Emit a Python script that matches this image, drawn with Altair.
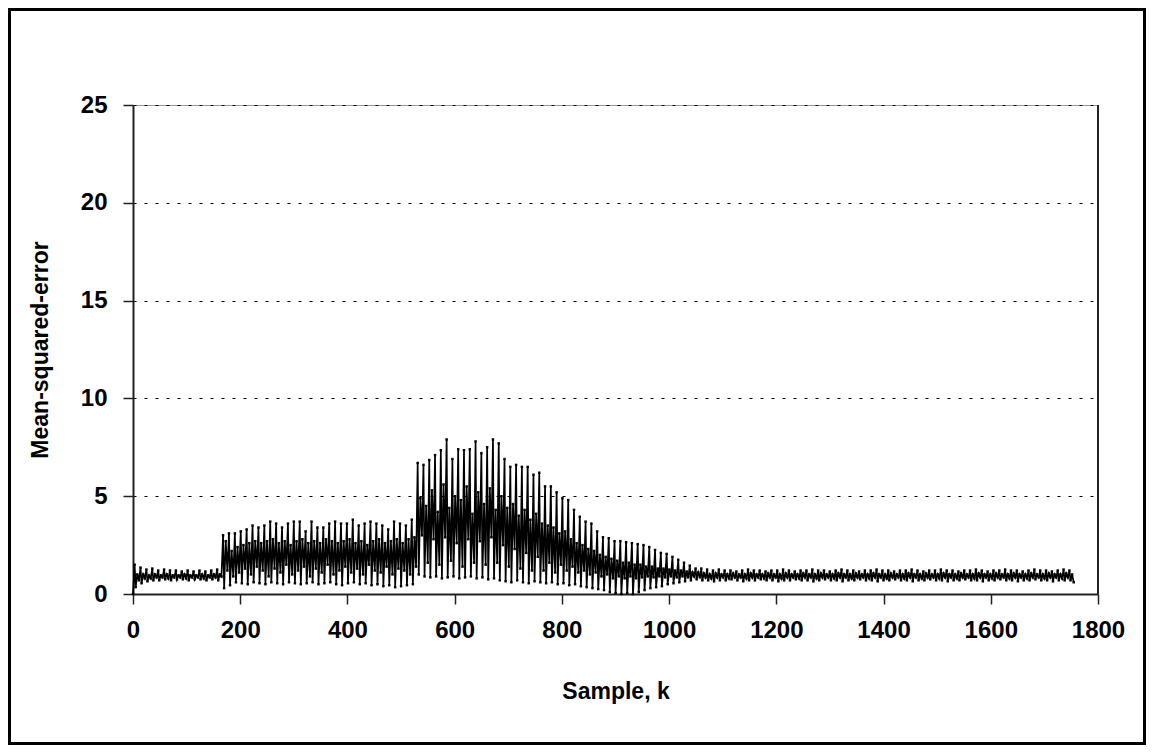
import altair as alt
import pandas as pd

# ---- values (per oscillation cycle) ----
# Segment A: k ~ 0..168
peakA = [1.5, 1.35, 1.25, 1.3, 1.2, 1.25, 1.2, 1.2, 1.15, 1.2, 1.15, 1.2, 1.15, 1.2, 1.25]
troughA = [0.35, 0.55, 0.65, 0.7, 0.7, 0.75, 0.7, 0.75, 0.75, 0.7, 0.75, 0.75, 0.7, 0.75, 0.7]
hiA = [1.0, 1.0, 0.95, 1.0, 0.95, 1.0, 0.95, 0.95, 1.0, 0.95, 0.95, 1.0, 0.95, 1.0, 1.0]
loA = [0.7, 0.8, 0.8, 0.85, 0.85, 0.8, 0.85, 0.85, 0.8, 0.85, 0.85, 0.8, 0.85, 0.85, 0.9]

# Segment B: k ~ 168..531
peakB = [3.0, 3.1, 3.1, 3.2, 3.3, 3.5, 3.4, 3.5, 3.7, 3.6, 3.4, 3.6, 3.7, 3.7, 3.2, 3.7, 3.4,
         3.4, 3.6, 3.7, 3.6, 3.6, 3.8, 3.5, 3.6, 3.7, 3.6, 3.5, 3.3, 3.7, 3.6, 3.5, 3.8]
troughB = [0.3, 0.45, 0.6, 0.55, 0.5, 0.6, 0.55, 0.5, 0.6, 0.55, 0.5, 0.6, 0.55, 0.5, 0.55, 0.6, 0.5,
           0.55, 0.6, 0.5, 0.45, 0.55, 0.6, 0.5, 0.55, 0.45, 0.5, 0.4, 0.45, 0.35, 0.4, 0.45, 0.5]
hiB = [2.7, 2.2, 2.4, 2.5, 2.6, 2.7, 2.6, 2.7, 2.8, 2.6, 2.7, 2.5, 2.7, 2.8, 2.6, 2.7, 2.6,
       2.8, 2.7, 2.6, 2.7, 2.8, 2.6, 2.7, 2.5, 2.7, 2.8, 2.6, 2.7, 2.8, 2.6, 2.8, 2.9]
loB = [1.2, 0.9, 1.1, 1.3, 1.0, 1.4, 1.2, 0.9, 1.3, 1.1, 1.5, 1.0, 1.2, 1.4, 0.9, 1.3, 1.1,
       1.5, 1.0, 1.2, 1.4, 1.1, 1.3, 1.0, 1.5, 1.2, 1.1, 1.4, 1.0, 1.3, 1.2, 1.0, 1.4]

# Segment C: k ~ 531..1060
peakC = [6.7, 6.6, 6.85, 7.1, 7.35, 7.9, 6.9, 7.4, 7.35, 7.4, 7.8, 7.2, 7.5, 7.9, 7.7,
         6.9, 6.5, 6.6, 6.5, 6.5, 6.1, 6.2, 5.5, 5.5, 5.2, 4.9, 4.8, 4.3, 3.95, 3.7,
         3.6, 3.2, 2.9, 2.85, 2.7, 2.7, 2.65, 2.6, 2.55, 2.5, 2.4, 2.25, 2.1, 2.05, 1.9,
         1.75, 1.6, 1.45, 1.3]
troughC = [1.0, 0.9, 0.85, 0.9, 0.8, 0.85, 0.9, 0.8, 0.85, 0.9,
           0.8, 0.85, 0.75, 0.8, 0.7, 0.65, 0.6, 0.7, 0.6, 0.55,
           0.65, 0.6, 0.55, 0.6, 0.5, 0.55, 0.45, 0.5, 0.4, 0.35,
           0.3, 0.25, 0.2, 0.1, 0.05, 0.0, 0.05, 0.0, 0.1, 0.2,
           0.3, 0.35, 0.4, 0.5, 0.55, 0.6, 0.65, 0.7, 0.75]
hiC = [4.9, 4.5, 5.3, 4.2, 5.6, 4.4, 5.0, 4.8, 5.5, 4.1,
       5.2, 4.6, 5.4, 4.3, 5.0, 4.4, 4.6, 4.0, 4.3, 3.8,
       4.1, 3.6, 3.5, 3.4, 3.1, 3.2, 2.8, 2.6, 2.5, 2.3,
       2.2, 2.0, 1.9, 1.8, 1.7, 1.6, 1.6, 1.5, 1.5, 1.4,
       1.4, 1.3, 1.3, 1.25, 1.2, 1.2, 1.15, 1.1, 1.1]
loC = [3.0, 1.6, 2.8, 1.5, 2.9, 1.7, 2.6, 1.4, 2.8, 1.6,
       2.7, 1.5, 2.9, 1.6, 2.5, 1.4, 2.3, 1.3, 2.1, 1.2,
       1.9, 1.2, 1.6, 1.1, 1.5, 1.2, 1.4, 1.1, 1.2, 1.0,
       1.1, 0.9, 1.0, 0.8, 0.9, 0.8, 0.9, 0.8, 0.85, 0.9,
       0.85, 0.9, 0.85, 0.9, 0.85, 0.9, 0.85, 0.9, 0.85]

# Segment D: k ~ 1060..1757
peakD = [1.3, 1.25, 1.2, 1.25, 1.2, 1.2, 1.15, 1.2, 1.25, 1.2,
         1.2, 1.15, 1.2, 1.2, 1.25, 1.2, 1.15, 1.2, 1.2, 1.25,
         1.2, 1.2, 1.15, 1.2, 1.25, 1.2, 1.2, 1.15, 1.2, 1.2,
         1.25, 1.2, 1.2, 1.15, 1.2, 1.2, 1.25, 1.2, 1.15, 1.2,
         1.2, 1.25, 1.2, 1.2, 1.15, 1.2, 1.2, 1.25, 1.2, 1.15,
         1.2, 1.2, 1.25, 1.2, 1.2, 1.15, 1.2, 1.25, 1.2, 1.2,
         1.15, 1.2, 1.25, 1.2]
troughD = [0.7, 0.7, 0.65, 0.7, 0.7, 0.75, 0.7, 0.65, 0.7, 0.7,
           0.75, 0.7, 0.7, 0.65, 0.7, 0.7, 0.75, 0.7, 0.7, 0.65,
           0.7, 0.75, 0.7, 0.7, 0.65, 0.7, 0.7, 0.75, 0.7, 0.7,
           0.65, 0.7, 0.7, 0.75, 0.7, 0.7, 0.65, 0.7, 0.7, 0.75,
           0.7, 0.7, 0.65, 0.7, 0.7, 0.75, 0.7, 0.7, 0.65, 0.7,
           0.7, 0.75, 0.7, 0.7, 0.65, 0.7, 0.7, 0.75, 0.7, 0.7,
           0.65, 0.7, 0.7, 0.7]
hiD = [1.05, 1.0, 1.05, 1.0, 1.0, 1.05, 1.0, 1.0, 1.05, 1.0,
       1.0, 1.05, 1.0, 1.0, 1.05, 1.0, 1.0, 1.05, 1.0, 1.0,
       1.05, 1.0, 1.0, 1.05, 1.0, 1.0, 1.05, 1.0, 1.0, 1.05,
       1.0, 1.0, 1.05, 1.0, 1.0, 1.05, 1.0, 1.0, 1.05, 1.0,
       1.0, 1.05, 1.0, 1.0, 1.05, 1.0, 1.0, 1.05, 1.0, 1.0,
       1.05, 1.0, 1.0, 1.05, 1.0, 1.0, 1.05, 1.0, 1.0, 1.05,
       1.0, 1.0, 1.05, 1.0]
loD = [0.85, 0.8, 0.85, 0.85, 0.8, 0.85, 0.85, 0.8, 0.85, 0.85,
       0.8, 0.85, 0.85, 0.8, 0.85, 0.85, 0.8, 0.85, 0.85, 0.8,
       0.85, 0.85, 0.8, 0.85, 0.85, 0.8, 0.85, 0.85, 0.8, 0.85,
       0.85, 0.8, 0.85, 0.85, 0.8, 0.85, 0.85, 0.8, 0.85, 0.85,
       0.8, 0.85, 0.85, 0.8, 0.85, 0.85, 0.8, 0.85, 0.85, 0.8,
       0.85, 0.85, 0.8, 0.85, 0.85, 0.8, 0.85, 0.85, 0.8, 0.85,
       0.85, 0.8, 0.85, 0.6]

# segment start sample and cycle length (samples)
segments = [
    (3, 11.0, peakA, troughA, hiA, loA),
    (168, 11.0, peakB, troughB, hiB, loB),
    (531, 10.8, peakC, troughC, hiC, loC),
    (1060, 10.9, peakD, troughD, hiD, loD),
]

ks = [0.0]
vals = [0.0]
for start, period, pk, tr, hi, lo in segments:
    for i in range(len(pk)):
        base = start + i * period
        for off, v in ((0, pk[i]), (2, tr[i]), (5, hi[i]), (8, lo[i])):
            ks.append(base + off)
            vals.append(v)

df = pd.DataFrame({"k": ks, "mse": vals})

FONT = "Liberation Sans"

xenc = alt.X("k:Q", scale=alt.Scale(domain=[0, 1800], nice=False),
             axis=alt.Axis(title="Sample, k", values=list(range(0, 1801, 200)),
                           format="d", grid=False, labelFlush=False))
yenc = alt.Y("mse:Q", scale=alt.Scale(domain=[0, 25], nice=False),
             axis=alt.Axis(title="Mean-squared-error", values=[0, 5, 10, 15, 20, 25],
                           format="d", grid=True))

line = alt.Chart(df).mark_line(color="black", strokeWidth=1.7).encode(
    x=xenc, y=yenc, order="k:Q",
)
pts = alt.Chart(df).mark_point(
    filled=True, color="black", size=6, opacity=1, shape="square"
).encode(x="k:Q", y="mse:Q")

right_border = alt.Chart(pd.DataFrame({"a": [0]})).mark_rule(
    color="#222", strokeWidth=2
).encode(x=alt.datum(1800), y=alt.datum(0), y2=alt.datum(25))

frame = alt.Chart(pd.DataFrame({"a": [0]})).mark_rect(
    filled=False, stroke="black", strokeWidth=3
).encode(
    x=alt.value(-123.5), x2=alt.value(1011.5),
    y=alt.value(-95.5), y2=alt.value(638.5),
)

chart = alt.layer(line, pts, right_border, frame).properties(
    width=965, height=489,
    padding={"left": 125, "top": 97, "right": 48, "bottom": 151},
    autosize=alt.AutoSizeParams(type="none"),
).configure_view(
    stroke="#999", strokeWidth=1
).configure_axis(
    labelFont=FONT, labelFontSize=24, labelFontWeight="bold", labelColor="black",
    titleFont=FONT, titleFontSize=23, titleFontWeight="bold", titleColor="black",
    domainColor="#222", domainWidth=2,
    tickColor="#222", tickWidth=1.5, tickSize=10,
    gridColor="black", gridDash=[3, 8], gridWidth=1, gridOpacity=1,
).configure_axisY(
    labelPadding=16, titlePadding=28,
).configure_axisX(
    labelPadding=14, titlePadding=38,
)

chart.save("out.html", embed_options={"renderer": "svg", "actions": False})
